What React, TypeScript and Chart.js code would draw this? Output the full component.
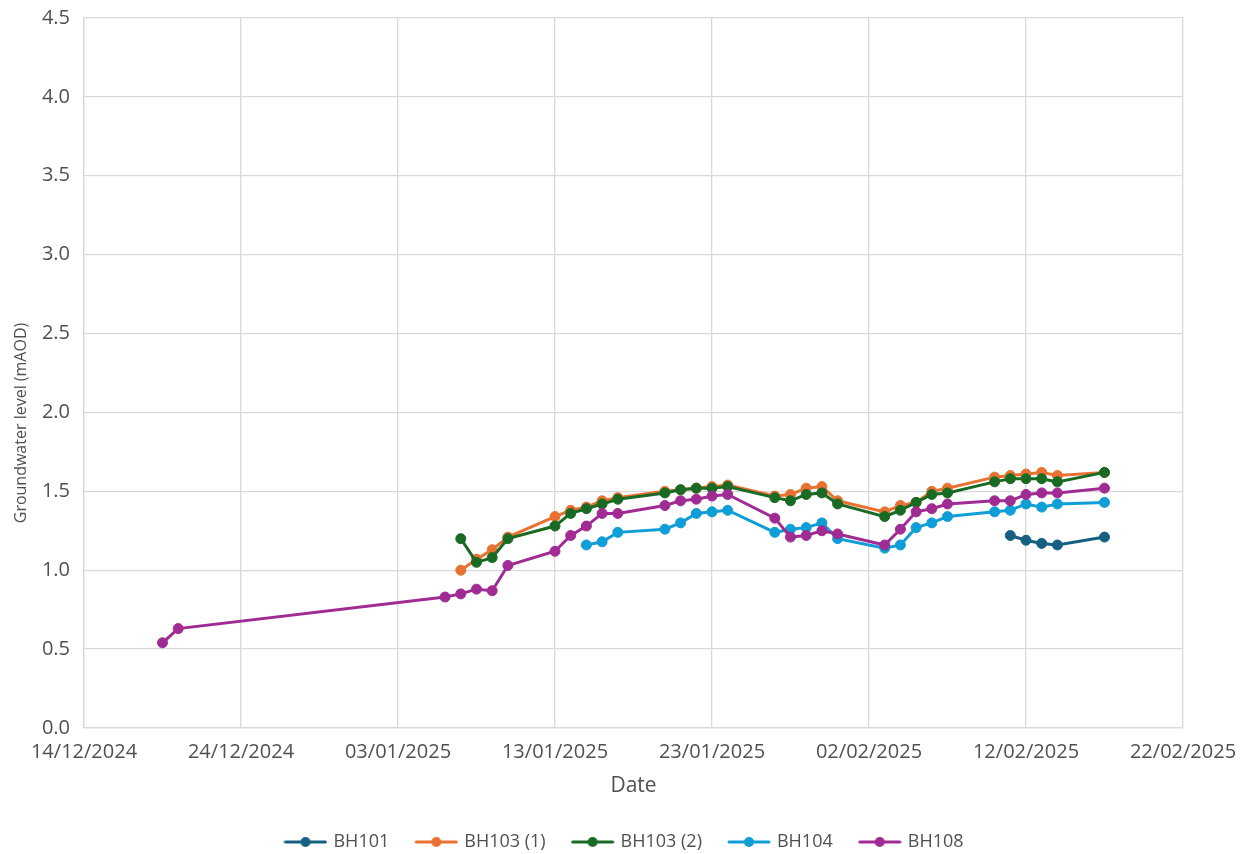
import React, { useEffect, useRef } from "react";
import { Chart, registerables } from "chart.js";

Chart.register(...registerables);

// ---- data ----
const START_DATE = "14/12/2024";
const X_MIN_DAYS = 0;
const X_MAX_DAYS = 70;
const X_STEP_DAYS = 10;
const Y_MIN = 0;
const Y_MAX = 4.5;
const Y_STEP = 0.5;

const seriesNames = ["BH101", "BH103 (1)", "BH103 (2)", "BH104", "BH108"];
const seriesColors = ["#156082", "#E97132", "#196B24", "#0F9ED5", "#A02B93"];

const bh101Dates = ["11/02/2025", "12/02/2025", "13/02/2025", "14/02/2025", "17/02/2025"];
const bh101Values = [1.22, 1.19, 1.17, 1.16, 1.21];

const bh103Dates = [
  "07/01/2025", "08/01/2025", "09/01/2025", "10/01/2025", "13/01/2025", "14/01/2025",
  "15/01/2025", "16/01/2025", "17/01/2025", "20/01/2025", "21/01/2025", "22/01/2025",
  "23/01/2025", "24/01/2025", "27/01/2025", "28/01/2025", "29/01/2025", "30/01/2025",
  "31/01/2025", "03/02/2025", "04/02/2025", "05/02/2025", "06/02/2025", "07/02/2025",
  "10/02/2025", "11/02/2025", "12/02/2025", "13/02/2025", "14/02/2025", "17/02/2025",
];
const bh103_1Values = [
  1.0, 1.07, 1.13, 1.21, 1.34, 1.38, 1.4, 1.44, 1.46, 1.5, 1.51, 1.52, 1.53, 1.54, 1.47,
  1.48, 1.52, 1.53, 1.44, 1.37, 1.41, 1.43, 1.5, 1.52, 1.59, 1.6, 1.61, 1.62, 1.6, 1.62,
];
const bh103_2Values = [
  1.2, 1.05, 1.08, 1.2, 1.28, 1.36, 1.39, 1.42, 1.45, 1.49, 1.51, 1.52, 1.52, 1.53, 1.46,
  1.44, 1.48, 1.49, 1.42, 1.34, 1.38, 1.43, 1.48, 1.49, 1.56, 1.58, 1.58, 1.58, 1.56, 1.62,
];

const bh104Dates = [
  "15/01/2025", "16/01/2025", "17/01/2025", "20/01/2025", "21/01/2025", "22/01/2025",
  "23/01/2025", "24/01/2025", "27/01/2025", "28/01/2025", "29/01/2025", "30/01/2025",
  "31/01/2025", "03/02/2025", "04/02/2025", "05/02/2025", "06/02/2025", "07/02/2025",
  "10/02/2025", "11/02/2025", "12/02/2025", "13/02/2025", "14/02/2025", "17/02/2025",
];
const bh104Values = [
  1.16, 1.18, 1.24, 1.26, 1.3, 1.36, 1.37, 1.38, 1.24, 1.26, 1.27, 1.3, 1.2, 1.14, 1.16,
  1.27, 1.3, 1.34, 1.37, 1.38, 1.42, 1.4, 1.42, 1.43,
];

const bh108Dates = [
  "19/12/2024", "20/12/2024", "06/01/2025", "07/01/2025", "08/01/2025", "09/01/2025",
  "10/01/2025", "13/01/2025", "14/01/2025", "15/01/2025", "16/01/2025", "17/01/2025",
  "20/01/2025", "21/01/2025", "22/01/2025", "23/01/2025", "24/01/2025", "27/01/2025",
  "28/01/2025", "29/01/2025", "30/01/2025", "31/01/2025", "03/02/2025", "04/02/2025",
  "05/02/2025", "06/02/2025", "07/02/2025", "10/02/2025", "11/02/2025", "12/02/2025",
  "13/02/2025", "14/02/2025", "17/02/2025",
];
const bh108Values = [
  0.54, 0.63, 0.83, 0.85, 0.88, 0.87, 1.03, 1.12, 1.22, 1.28, 1.36, 1.36, 1.41, 1.44,
  1.45, 1.47, 1.48, 1.33, 1.21, 1.22, 1.25, 1.23, 1.16, 1.26, 1.37, 1.39, 1.42, 1.44,
  1.44, 1.48, 1.49, 1.49, 1.52,
];

const xAxisTitle = "Date";
const yAxisTitle = "Groundwater level (mAOD)";

// ---- helpers ----
const DAY_MS = 86400000;
function parseDMY(s: string): number {
  const [d, m, y] = s.split("/").map(Number);
  return Date.UTC(y, m - 1, d);
}
const startMs = parseDMY(START_DATE);
function toDays(s: string): number {
  return Math.round((parseDMY(s) - startMs) / DAY_MS);
}
function daysToLabel(days: number): string {
  const dt = new Date(startMs + Math.round(days) * DAY_MS);
  const dd = String(dt.getUTCDate()).padStart(2, "0");
  const mm = String(dt.getUTCMonth() + 1).padStart(2, "0");
  return `${dd}/${mm}/${dt.getUTCFullYear()}`;
}
function toPoints(dates: string[], values: number[]) {
  return dates.map((d, i) => ({ x: toDays(d), y: values[i] }));
}

function makeLegendMarker(color: string): HTMLCanvasElement {
  const c = document.createElement("canvas");
  c.width = 44;
  c.height = 12;
  const ctx = c.getContext("2d")!;
  ctx.strokeStyle = color;
  ctx.lineWidth = 3;
  ctx.lineCap = "round";
  ctx.beginPath();
  ctx.moveTo(2, 6);
  ctx.lineTo(42, 6);
  ctx.stroke();
  ctx.fillStyle = color;
  ctx.beginPath();
  ctx.arc(22, 6, 5, 0, Math.PI * 2);
  ctx.fill();
  return c;
}

const FONT = "'Open Sans', 'DejaVu Sans', sans-serif";
const TEXT = "#505050";
const GRID = "#d9d9d9";

// y-axis title centred on the whole chart height (as in the source)
const yTitlePlugin = {
  id: "yTitle",
  afterDraw(chart: any) {
    const ctx = chart.ctx;
    ctx.save();
    ctx.translate(21, 423);
    ctx.rotate(-Math.PI / 2);
    ctx.fillStyle = TEXT;
    ctx.font = `16px ${FONT}`;
    ctx.textAlign = "center";
    ctx.textBaseline = "middle";
    ctx.fillText(yAxisTitle, 0, 0);
    ctx.restore();
  },
};

export default function App() {
  const ref = useRef<HTMLCanvasElement | null>(null);

  useEffect(() => {
    if (!ref.current) return;
    const seriesData = [
      toPoints(bh101Dates, bh101Values),
      toPoints(bh103Dates, bh103_1Values),
      toPoints(bh103Dates, bh103_2Values),
      toPoints(bh104Dates, bh104Values),
      toPoints(bh108Dates, bh108Values),
    ];
    const markers = seriesColors.map(makeLegendMarker);

    const chart = new Chart(ref.current, {
      type: "line",
      data: {
        datasets: seriesNames.map((name, i) => ({
          label: name,
          data: seriesData[i],
          borderColor: seriesColors[i],
          backgroundColor: seriesColors[i],
          borderWidth: 3,
          pointRadius: 5,
          pointBorderWidth: 1,
          pointBackgroundColor: seriesColors[i],
          pointBorderColor: seriesColors[i],
          tension: 0,
          fill: false,
          order: seriesNames.length - i,
        })),
      },
      plugins: [yTitlePlugin],
      options: {
        responsive: false,
        animation: false,
        layout: { padding: { left: 0, right: 0, top: 18, bottom: 0 } },
        plugins: {
          tooltip: { enabled: false },
          legend: {
            position: "bottom",
            labels: {
              usePointStyle: true,
              pointStyleWidth: 38,
              padding: 28,
              color: TEXT,
              font: { family: FONT, size: 18 },
              sort: (a: any, b: any) => a.datasetIndex - b.datasetIndex,
              generateLabels: (c: any) => {
                const items = Chart.defaults.plugins.legend.labels.generateLabels(c);
                return items.map((it: any, idx: number) => ({
                  ...it,
                  pointStyle: markers[it.datasetIndex ?? idx],
                }));
              },
            },
          },
        },
        scales: {
          x: {
            type: "linear",
            min: X_MIN_DAYS,
            max: X_MAX_DAYS,
            afterFit: (s: any) => {
              s.height = 77;
              s.paddingRight = 67;
            },
            ticks: {
              stepSize: X_STEP_DAYS,
              padding: 12,
              color: TEXT,
              font: { family: FONT, size: 20 },
              maxRotation: 0,
              callback: (v: any) => daysToLabel(Number(v)),
            },
            grid: { color: GRID, lineWidth: 1.3, drawTicks: false },
            border: { color: GRID, width: 1.3 },
            title: {
              display: true,
              text: xAxisTitle,
              color: TEXT,
              font: { family: FONT, size: 21 },
              padding: { top: 0, bottom: 6 },
            },
          },
          y: {
            type: "linear",
            min: Y_MIN,
            max: Y_MAX,
            afterFit: (s: any) => {
              s.width = 84;
              s.paddingTop = 0;
            },
            ticks: {
              stepSize: Y_STEP,
              padding: 14,
              color: TEXT,
              font: { family: FONT, size: 20 },
              callback: (v: any) => Number(v).toFixed(1),
            },
            grid: { color: GRID, lineWidth: 1.3, drawTicks: false },
            border: { color: GRID, width: 1.3 },
            title: { display: false },
          },
        },
      },
    } as any);
    return () => chart.destroy();
  }, []);

  return (
    <div
      style={{
        position: "fixed",
        left: 0,
        top: 0,
        width: 1250,
        height: 854,
        overflow: "hidden",
        background: "#fff",
      }}
    >
      <canvas ref={ref} width={1250} height={861} style={{ width: 1250, height: 861, display: "block" }} />
    </div>
  );
}
